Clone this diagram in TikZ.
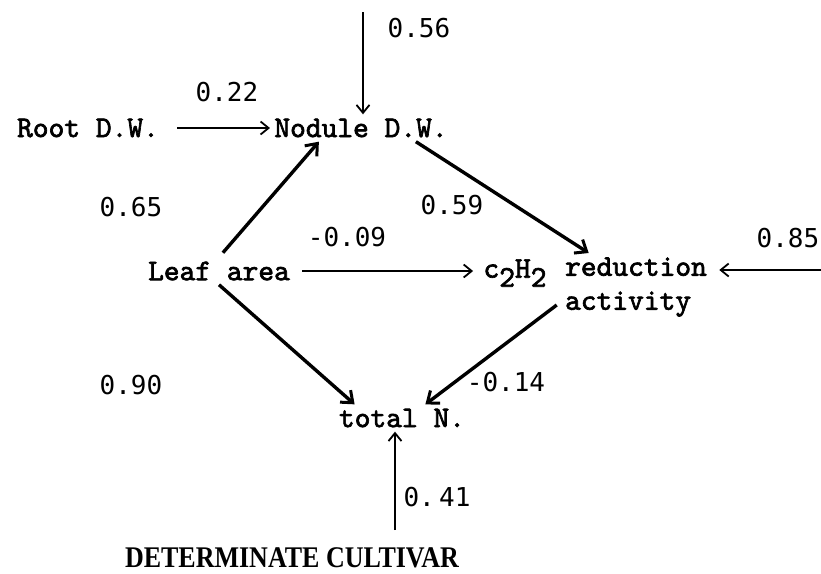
\documentclass[tikz,border=0pt]{standalone}
\usepackage{fontspec}
\newfontfamily\coeffont{DejaVu Sans Mono}
\newfontfamily\cultfont{Liberation Serif}
\newfontfamily\varfont{lmmono10-regular.otf}[FakeBold=2.2]
\usepackage{tikz}
\usetikzlibrary{
    arrows.meta,
    positioning,
    calc
}
\tikzset{
    % Variable names - heavy typewriter text
    varbox/.style={
        font=\varfont\fontsize{15}{17}\selectfont,
        inner sep=2pt,
        text=black,
    },
    % Path coefficients
    coefbox/.style={
        font=\coeffont\fontsize{13}{15}\selectfont,
        inner sep=1pt,
    },
    % Cultivar caption
    cultbox/.style={
        font=\cultfont\bfseries\fontsize{12.5}{14}\selectfont,
        inner sep=1pt,
    },
    % Thin arrow - residual and weak paths
    thin arrow/.style={
        -{Straight Barb[length=4pt, width=6.5pt, line width=0.9pt]},
        line width=0.75pt,
    },
    % Thick arrow - strong paths
    thick arrow/.style={
        -{Straight Barb[length=5pt, width=8pt, line width=1.5pt]},
        line width=1.7pt,
    },
}

\begin{document}
\begin{tikzpicture}[x=0.5pt, y=-0.5pt]
    \useasboundingbox (0,0) rectangle (821,574);

    % Variables
    \node (root_dw) [varbox] at (88,128) {Root D.W.};
    \node (nodule_dw) [varbox] at (361,128) {Nodule D.W.};
    \node (leaf_area) [varbox] at (219,271) {Leaf area};
    \node (c2h2) [varbox] at (515,273) {c\raisebox{-4.5pt}{2}H\raisebox{-4.5pt}{2}};
    \node (reduction) [varbox, align=left] at (636,287) {reduction\\activity};
    \node (total_n) [varbox] at (402,418) {total N.};
    \node (cultivar) [cultbox] at (292,558) {\scalebox{1.04}[1.2]{DETERMINATE CULTIVAR}};

    % Free ends of the residual arrows
    \coordinate (top_in) at (363,12);
    \coordinate (right_in) at (821,270);
    \coordinate (bottom_in) at (395,530);

    % Coefficients
    \node (c056) [coefbox] at (419,28) {0.56};
    \node (c022) [coefbox] at (227,92) {0.22};
    \node (c065) [coefbox] at (131,207) {0.65};
    \node (c059) [coefbox] at (452,205) {0.59};
    \node (c009) [coefbox] at (347,237) {-0.09};
    \node (c085) [coefbox] at (788,238) {0.85};
    \node (c090) [coefbox] at (131,385) {0.90};
    \node (c014) [coefbox] at (506,382) {-0.14};
    \node (c041) [coefbox] at (437,497) {0.\,41};

    % Paths
    \draw [thin arrow, shorten <=7pt] (root_dw) -- (nodule_dw);
    \draw [thin arrow] (top_in) -- (top_in |- nodule_dw.north);
    \draw [thick arrow, shorten <=3pt] (leaf_area.north) -- (nodule_dw.198);
    \draw [thick arrow] (nodule_dw.-14) -- ([xshift=14pt]reduction.north west);
    \draw [thin arrow, shorten <=4pt, shorten >=3pt] (leaf_area) -- (leaf_area -| c2h2.west);
    \draw [thin arrow, shorten >=4pt] (right_in) -- (right_in -| reduction.east);
    \draw [thick arrow] (leaf_area.south) -- ([xshift=10pt]total_n.north west);
    \draw [thick arrow] ([yshift=-9pt, xshift=-2pt]reduction.west) -- ([xshift=-22pt]total_n.north east);
    \draw [thin arrow] (bottom_in) -- (bottom_in |- total_n.south);
\end{tikzpicture}
\end{document}
